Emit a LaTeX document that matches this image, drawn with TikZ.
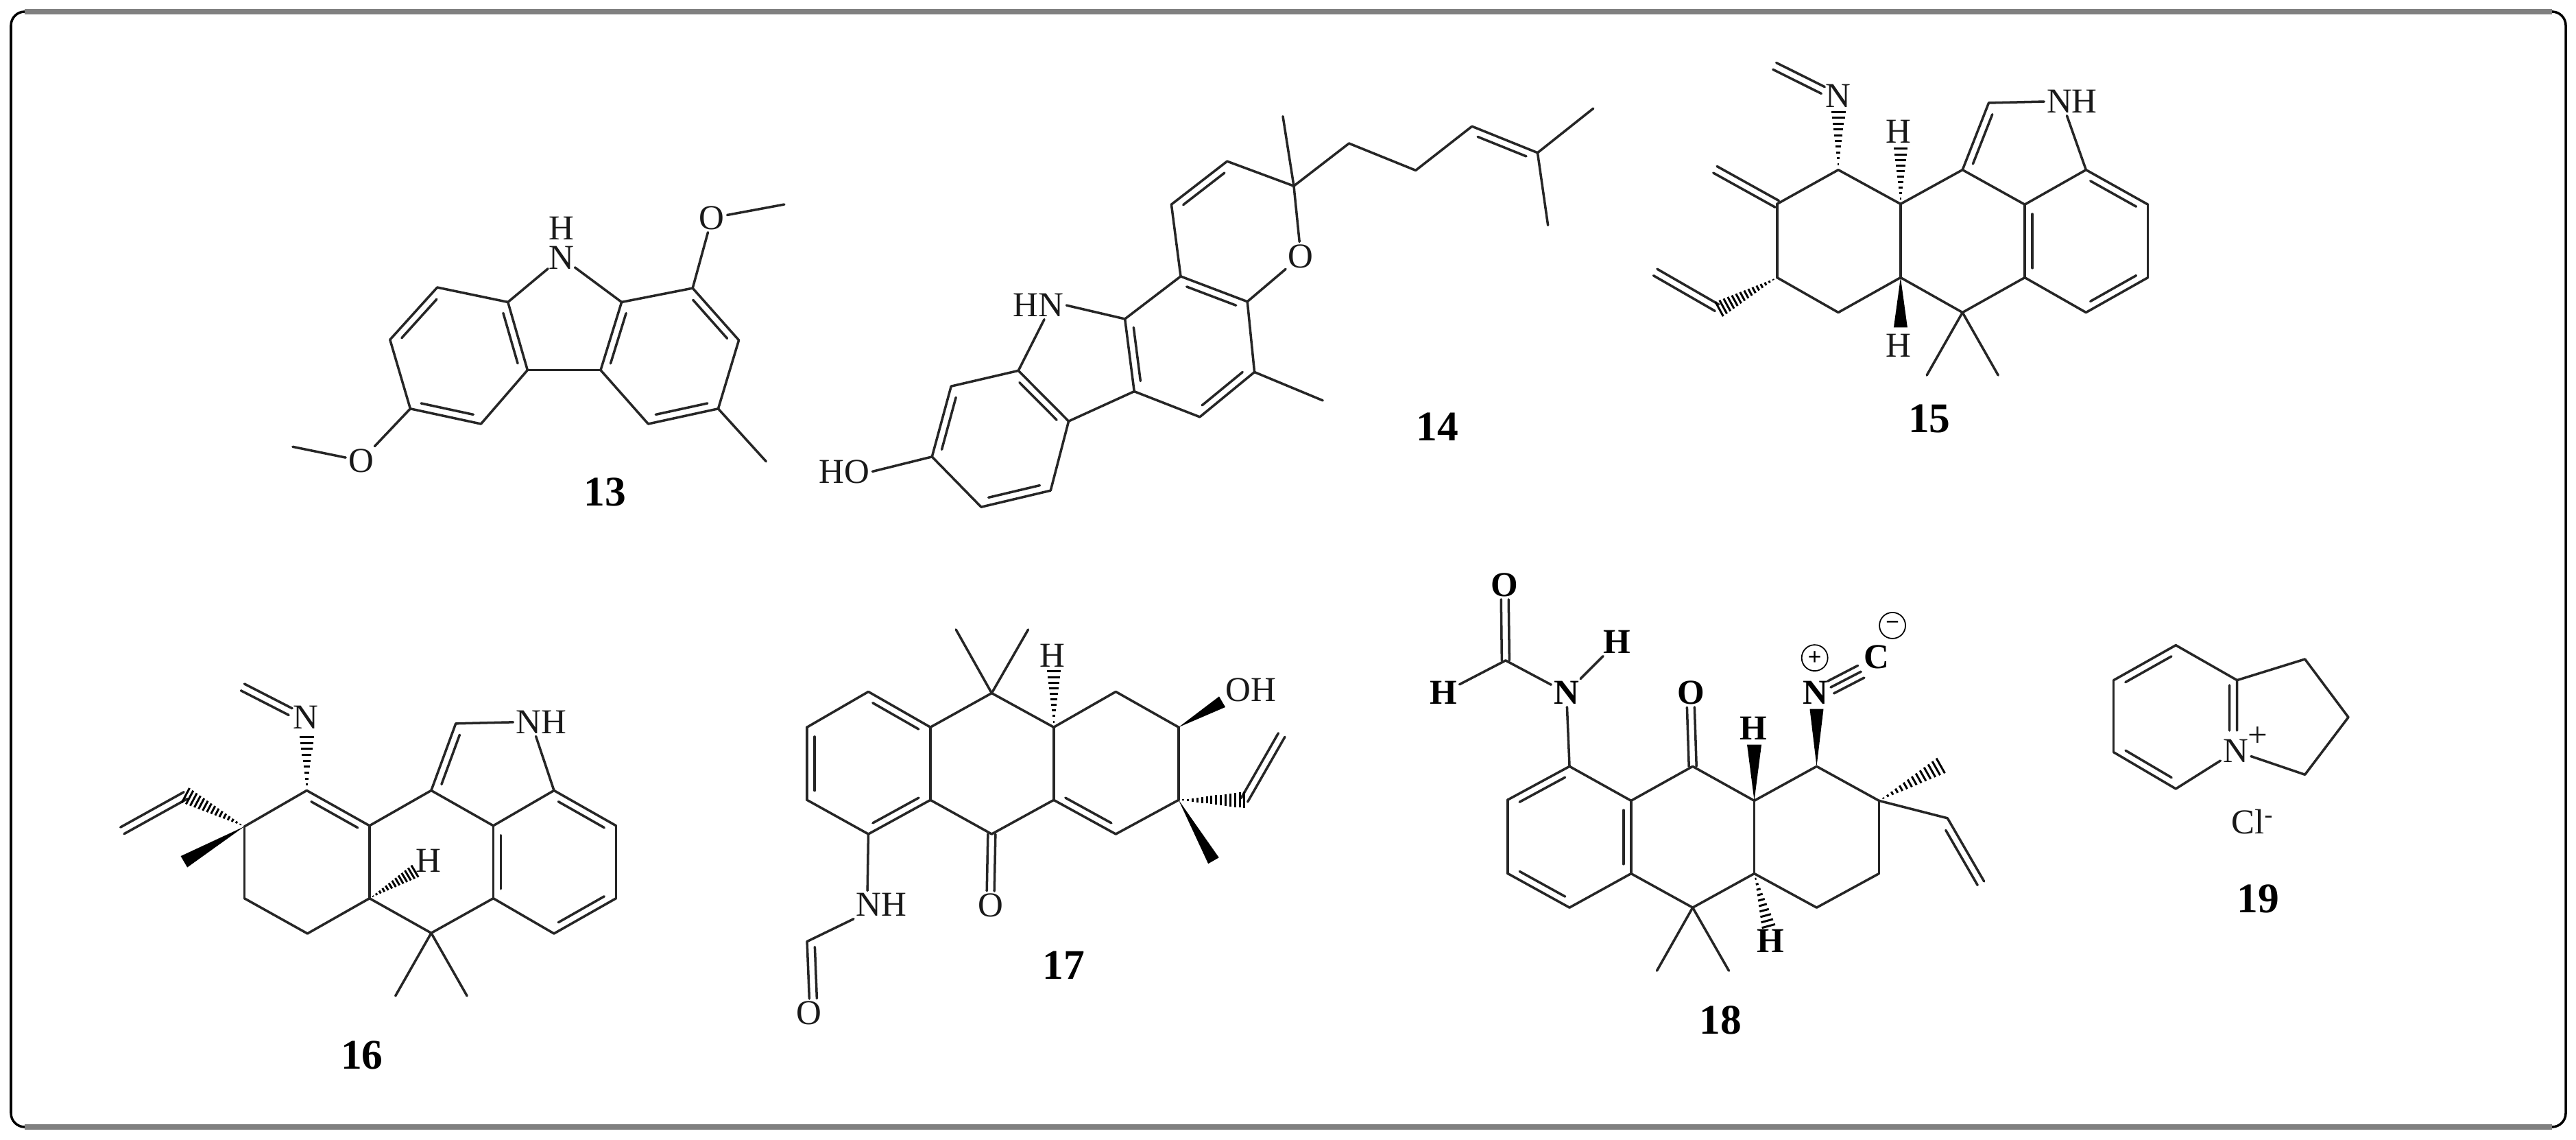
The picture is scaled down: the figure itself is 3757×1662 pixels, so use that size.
\documentclass[tikz,border=0pt]{standalone}
\usepackage{fontspec}
\setmainfont{Liberation Serif}
\usetikzlibrary{calc}
\def\dbd{0.22cm}
\def\dbh{0.11cm}
\tikzset{
  bond/.style={line width=2pt,color=black!85,line cap=round},
  hashline/.style={line width=1.7pt,color=black},
  atom/.style={inner sep=2pt,font=\fontsize{29}{29}\selectfont,text=black!90},
  batom/.style={inner sep=2pt,font=\fontsize{29}{29}\selectfont\bfseries,text=black},
  lbl/.style={inner sep=0pt,font=\fontsize{35}{35}\selectfont\bfseries},
  chg/.style={draw,circle,minimum size=0.76cm,inner sep=0pt,line width=1pt,font=\fontsize{20}{20}\selectfont\bfseries},
}
\newcommand\atoms[1]{\foreach \n/\x/\y in {#1}{\coordinate (\n) at (\x,\y);}}
\newcommand\bonds[1]{\foreach \a/\b in {#1}{\draw[bond] (\a)--(\b);}}
\newcommand\dbg[4]{\draw[bond] (#1)--(#2) ($(#1)!#3!(#2)!\dbd!90:(#2)$)--($(#2)!#4!(#1)!\dbd!-90:(#1)$);}
\newcommand\dbond[2]{\dbg{#1}{#2}{.13}{.13}}
\newcommand\dbx[2]{\draw[bond] ($(#1)!\dbh!90:(#2)$)--($(#2)!\dbh!-90:(#1)$) ($(#1)!\dbh!-90:(#2)$)--($(#2)!\dbh!90:(#1)$);}
\newcommand\solidw[3]{\fill[black] (#1)--($(#2)!#3!90:(#1)$)--($(#2)!#3!-90:(#1)$)--cycle;}
\newcommand\hashw[4]{\foreach \i in {1,...,#4}{%
  \pgfmathsetmacro\tt{\i/#4}\pgfmathsetmacro\dw{\tt*#3}%
  \draw[hashline] ($(#1)!\tt!(#2)!\dw cm!90:(#1)$)--($(#1)!\tt!(#2)!\dw cm!-90:(#1)$);}}
\begin{document}
\begin{tikzpicture}[x=0.02cm,y=-0.02cm]
\useasboundingbox (0,0) rectangle (3757,1662);
\fill[white] (0,0) rectangle (3757,1662);
% frame
\draw[line width=2pt,black,rounded corners=0.4cm] (16,17) rectangle (3742,1643);
\draw[line width=4pt,black!50] (36,17)--(3722,17) (36,1643)--(3722,1643);

% ---------- 13
\begin{scope}[shift={(380,200)},x=0.010204cm,y=-0.007399cm]
\atoms{a1/505/592,a2/370/798,a3/428/1070,a4/630/1130,a5/763/918,a6/707/650,a7/1032/650,a8/972/918,a9/1235/595,a10/1367/800,a11/1308/1070,a12/1108/1130,am/1445/1278,ae1/1497/265,ae2/92/1220}
\node[atom,inner sep=0pt] (aH) at (860,358) {H};
\node[atom,inner sep=0.5pt] (aN) at (860,474) {N};
\node[atom] (aO1) at (1290,318) {O};
\node[atom] (aO2) at (287,1275) {O};
\node[lbl] (l13) at (985,1400) {13};
\bonds{a6/a1,a2/a3,a4/a5,a6/aN,aN/a7,a5/a8,a8/a12,a11/a10,a9/a7,a9/aO1,aO1/ae1,a11/am,a3/aO2,aO2/ae2}
\dbond{a1}{a2}\dbond{a3}{a4}\dbond{a5}{a6}\dbond{a7}{a8}\dbond{a12}{a11}\dbond{a10}{a9}
\end{scope}

% ---------- 14
\begin{scope}[shift={(1160,120)},x=0.015944cm,y=-0.008292cm]
\atoms{b1/892/120,b2/912/365,b3/790/278,b4/688/430,b5/705/683,b6/827/772,c1/1013/215,c2/1135/310,c3/1238/155,c4/1358/248,bm1/1460/92,bm2/1377/503,b7/840/1020,bm3/965/1120,b8/740/1178,b9/620/1088,b10/603/833,b11/408/1015,b12/500/1193,b13/285/1070,b14/250/1318,b15/340/1495,b16/467/1437}
\node[atom] (bO) at (925,612) {O};
\node[atom] (bN) at (445,785) {HN};
\node[atom] (bOH) at (90,1370) {HO};
\node[lbl] (l14) at (1175,1212) {14};
\bonds{b2/b1,b2/b3,b4/b5,b6/bO,bO/b2,b2/c1,c1/c2,c2/c3,c4/bm1,c4/bm2,b6/b7,b7/bm3,b8/b9,b10/b5,b10/bN.east,bN.292/b11,b11/b13,b14/b15,b16/b12,b12/b9,b14/bOH.east}
\dbond{b3}{b4}\dbond{b6}{b5}\dbond{c4}{c3}\dbond{b8}{b7}\dbond{b10}{b9}\dbond{b12}{b11}\dbond{b13}{b14}\dbond{b15}{b16}
\end{scope}

% ---------- 15
\begin{scope}[shift={(2380,60)},x=0.010204cm,y=-0.007654cm]
\atoms{d1/590/490,d2/768/620,d3/945/490,d4/1123/622,d5/1298/490,d6/1475/622,d7/1475/900,d8/1298/1033,d9/1123/900,d10/945/1033,d11/768/900,d12/590/1033,d13/415/900,d14/415/620,e1/1020/235,dm1/843/1272,dm2/1047/1272,dx1/238/489,dx2/408/95,dv/243/1015,dv2/67/880,dh1/590/270,dh2/768/410,dw/768/1090,dv0/250/1020}
\node[atom] (dN) at (590,208) {N};
\node[atom] (dNH) at (1258,230) {NH};
\node[atom] (dH1) at (762,345) {H};
\node[atom] (dH2) at (762,1160) {H};
\node[lbl] (l15) at (850,1437) {15};
\bonds{d14/d1,d1/d2,d2/d11,d11/d12,d12/d13,d13/d14,d2/d3,d3/d4,d9/d10,d10/d11,e1/dNH.west,dNH.250/d5,d5/d4,d6/d7,d8/d9,d10/dm1,d10/dm2}
\dbond{d4}{d9}\dbond{e1}{d3}\dbond{d6}{d5}\dbond{d8}{d7}
\dbx{d14}{dx1}\dbx{dN.160}{dx2}\dbx{dv}{dv2}
\hashw{d1}{dh1}{0.21}{10}\hashw{d2}{dh2}{0.2}{10}\hashw{d13}{dv0}{0.24}{15}
\solidw{d11}{dw}{0.2cm}
\end{scope}

% ---------- 16
\begin{scope}[shift={(150,960)},x=0.00995cm,y=-0.007908cm]
\atoms{f1/598/487,f2/782/617,f3/963/487,f4/1145/617,f5/1323/487,f6/1505/617,f7/1505/885,f8/1323/1015,f9/1145/885,f10/963/1013,f11/782/885,f12/600/1015,f13/415/885,f14/415/620,fe/1035/240,fm1/858/1245,fm2/1068/1245,fx2/410/106,fh1/598/290,fh2/915/785,fv/243/505,fv2/57/635,fw/238/750}
\node[atom] (fN) at (595,217) {N};
\node[atom] (fNH) at (1285,235) {NH};
\node[atom] (fH) at (955,745) {H};
\node[lbl] (l16) at (760,1465) {16};
\bonds{f14/f1,f2/f11,f11/f12,f12/f13,f13/f14,f2/f3,f3/f4,f9/f10,f10/f11,fe/fNH.west,fNH.250/f5,f5/f4,f6/f7,f8/f9,f10/fm1,f10/fm2}
\dbond{f2}{f1}\dbond{f4}{f9}\dbond{fe}{f3}\dbond{f6}{f5}\dbond{f8}{f7}
\dbx{fN.160}{fx2}\dbx{fv}{fv2}
\hashw{f1}{fh1}{0.21}{9}\hashw{f11}{fh2}{0.2}{13}\hashw{f14}{fv}{0.24}{15}
\solidw{f14}{fw}{0.19cm}
\end{scope}

% ---------- 17
\begin{scope}[shift={(1080,880)},x=0.010971cm,y=-0.008418cm]
\atoms{g1/340/305,g2/177/428,g3/177/680,g4/340/798,g5/505/680,g6/505/428,g7/668/310,g8/833/428,g9/833/680,g10/668/798,g11/998/305,g12/1165/428,g13/1165/680,g14/998/798,gm1/573/90,gm2/765/90,gh/833/235,gw1/1281/340,gv/1340/680,gv2/1439/455,gw2/1258/890,h1/177/1170}
\node[atom] (gH) at (830,180) {H};
\node[atom] (gOH) at (1358,300) {OH};
\node[atom] (gO1) at (665,1045) {O};
\node[atom] (gNH) at (375,1043) {NH};
\node[atom] (gO2) at (183,1418) {O};
\node[lbl] (l17) at (860,1252) {17};
\bonds{g1/g2,g3/g4,g5/g6,g6/g7,g7/g8,g8/g9,g9/g10,g10/g5,g8/g11,g11/g12,g12/g13,g13/g14,g7/gm1,g7/gm2,g4/gNH.135,gNH.south west/h1}
\dbond{g6}{g1}\dbond{g2}{g3}\dbond{g4}{g5}\dbond{g9}{g14}
\dbx{g10}{gO1.north}\dbx{gv}{gv2}
\dbg{h1}{gO2.north}{.1}{0}
\hashw{g8}{gh}{0.2}{10}\hashw{g13}{gv}{0.24}{14}
\solidw{g12}{gw1}{0.18cm}\solidw{g13}{gw2}{0.18cm}
\end{scope}

% ---------- 18
\begin{scope}[shift={(2060,800)},x=0.011223cm,y=-0.009438cm]
\atoms{k1/408/672,k2/248/775,k3/248/1003,k4/408/1108,k5/568/1003,k6/568/778,k7/728/672,k8/888/778,k9/888/1003,k10/728/1108,k11/1050/672,k12/1212/778,k13/1212/1003,k14/1050/1108,kc/242/345,km1/635/1303,km2/822/1303,kw1/888/605,kw2/1050/495,khe/1372/670,khb/925/1165,kv/1390/832,kv2/1485/1027}
\node[batom] (kN) at (400,445) {N};
\node[batom] (kO1) at (240,112) {O};
\node[batom] (kH1) at (80,445) {H};
\node[batom] (kH2) at (532,288) {H};
\node[batom] (kO2) at (723,445) {O};
\node[batom] (kH3) at (885,555) {H};
\node[batom] (kNp) at (1047,445) {N};
\node[chg] (kpl) at (1045,337) {+};
\node[batom] (kC) at (1205,335) {C};
\node[chg] (kmn) at (1247,237) {−};
\node[batom] (kH4) at (930,1210) {H};
\node[lbl] (l18) at (800,1455) {18};
\bonds{k2/k3,k4/k5,k6/k1,k6/k7,k7/k8,k8/k9,k9/k10,k10/k5,k8/k11,k11/k12,k12/k13,k13/k14,k14/k9,k10/km1,k10/km2,k1/kN,kc/kN,kc/kH1,kN/kH2,k12/kv}
\dbond{k1}{k2}\dbond{k3}{k4}\dbond{k5}{k6}
\dbx{kc}{kO1.south}\dbx{k7}{kO2.south}
\dbg{kv2}{kv}{0}{.13}
\draw[bond] (kNp.20)--(kC.south west)
  ($(kNp.20)!0.2cm!90:(kC.south west)$)--($(kC.south west)!0.2cm!-90:(kNp.20)$)
  ($(kNp.20)!0.2cm!-90:(kC.south west)$)--($(kC.south west)!0.2cm!90:(kNp.20)$);
\solidw{k8}{kw1}{0.21cm}\solidw{k11}{kw2}{0.2cm}
\hashw{k12}{khe}{0.25}{14}\hashw{k9}{khb}{0.2}{10}
\end{scope}

% ---------- 19
\begin{scope}[shift={(3040,900)},x=0.006667cm,y=-0.006667cm]
\atoms{m1/400/122,m2/128/275,m3/128/590,m4/400/750,m6/668/275,n1/965/183,n2/1155/437,n3/965/688,mt/668/495}
\node[atom] (mN) at (662,585) {N};
\node[atom] (mp) at (760,522) {+};
\node[atom] (mCl) at (735,895) {Cl\textsuperscript{-}};
\node[lbl] (l19) at (760,1230) {19};
\bonds{m1/m6,m2/m3,m6/n1,n1/n2,n2/n3,n3/mN,mN/m4}
\dbond{m1}{m2}\dbond{m3}{m4}
\dbg{mt}{m6}{0}{.1}
\end{scope}
\end{tikzpicture}
\end{document}
